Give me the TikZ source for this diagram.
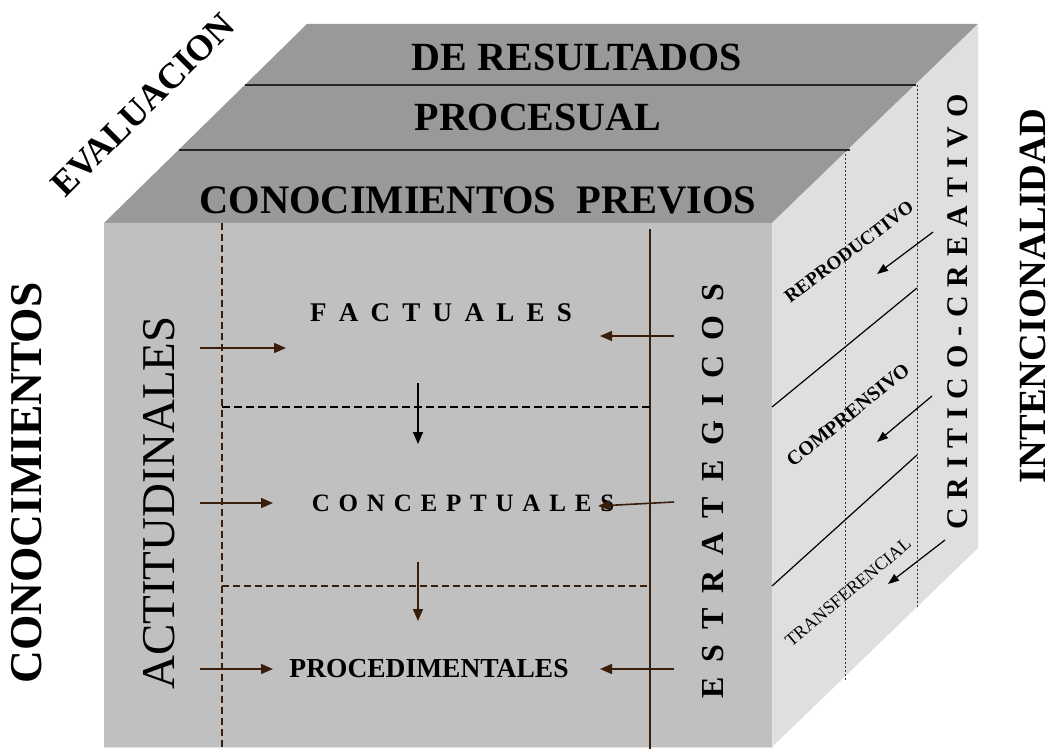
\documentclass[tikz,border=0pt]{standalone}
\usepackage{fontspec}
\setmainfont{Liberation Serif}
\usetikzlibrary{arrows.meta}
\definecolor{topgray}{HTML}{999999}
\definecolor{frontgray}{HTML}{C0C0C0}
\definecolor{sidegray}{HTML}{DFDFDF}
\definecolor{brn}{HTML}{3A1E0C}
\makeatletter
\newcommand\spreadtext[2]{\@tfor\sp@l:=#2\do{\sp@l\hskip#1\relax}\unskip}
\makeatother
\newcommand\fs[1]{\fontsize{#1}{#1}\selectfont}
\begin{document}
\begin{tikzpicture}[x=1pt,y=-1pt,
  lbl/.style={inner sep=0pt, font=\bfseries},
  arr/.style={-{Triangle[length=12pt,width=10pt]}, line width=1.6pt, draw=brn, fill=brn},
  sarr/.style={-{Triangle[length=11pt,width=8pt]}, line width=1.2pt, draw=black, fill=black},
  divline/.style={line width=1.5pt, draw=black!85},
  dotline/.style={line width=0.8pt, dash pattern=on 2pt off 2pt, draw=black!80},
  bdash/.style={line width=1.2pt, dash pattern=on 7pt off 4pt, draw=brn}]
\useasboundingbox (0,0) rectangle (1051,749);
% faces
\fill[topgray] (104,223) -- (307,24) -- (978,24) -- (772,223) -- cycle;
\fill[frontgray] (104,223) rectangle (772,747);
\fill[sidegray] (772,223) -- (978,24) -- (978,548) -- (772,747) -- cycle;
\draw[white!90!black, line width=0.8pt] (104,747) -- (772,747) -- (772,223);
% top face dividers
\draw[divline] (245,85) -- (916,85);
\draw[divline] (179,150) -- (850,150);
% top texts
\node[lbl, font=\bfseries\fs{40}] (res) at (577,57) {DE RESULTADOS};
\node[lbl, font=\bfseries\fs{40}] (proc) at (538,117) {PROCESUAL};
\node[lbl, font=\bfseries\fs{40.5}] (prev) at (478,200) {CONOCIMIENTOS\hskip20pt PREVIOS};
% front face lines
\draw[bdash] (222,223) -- (222,749);
\draw[line width=1.3pt, draw=brn] (650,229) -- (650,749);
\draw[line width=1.2pt, dash pattern=on 8pt off 4pt, draw=black] (222,407) -- (650,407);
\draw[bdash] (222,586) -- (650,586);
% front texts
\node[inner sep=0pt, font=\fs{47}, rotate=90] (act) at (159,503) {ACTITUDINALES};
\node[lbl, font=\bfseries\fs{32}, rotate=90] (est) at (713,491) {\spreadtext{14.8pt}{ESTRATEGICOS}};
\node[lbl, font=\bfseries\fs{27}] (fac) at (441,313) {\spreadtext{12.3pt}{FACTUALES}};
\node[lbl, font=\bfseries\fs{25}] (con) at (463,503) {\spreadtext{8.8pt}{CONCEPTUALES}};
\node[lbl, font=\bfseries\fs{27.5}] (pro) at (429,669) {PROCEDIMENTALES};
% front arrows
\coordinate (a1s) at (200,348); \coordinate (a1e) at (286,348);
\coordinate (a2s) at (200,503); \coordinate (a2e) at (273,503);
\coordinate (a3s) at (200,669); \coordinate (a3e) at (273,669);
\draw[arr] (a1s) -- (a1e);
\draw[arr] (a2s) -- (a2e);
\draw[arr] (a3s) -- (a3e);
\coordinate (d1s) at (418,383); \coordinate (d1e) at (418,444);
\coordinate (d2s) at (418,562); \coordinate (d2e) at (418,621);
\draw[arr, draw=black, fill=black] (d1s) -- (d1e);
\draw[arr] (d2s) -- (d2e);
\coordinate (b1s) at (674,336); \coordinate (b1e) at (600,336);
\coordinate (b2s) at (674,502); \coordinate (b2e) at (598,506);
\coordinate (b3s) at (674,669); \coordinate (b3e) at (600,669);
\draw[arr] (b1s) -- (b1e);
\draw[arr] (b2s) -- (b2e);
\draw[arr] (b3s) -- (b3e);
% right face
\draw[dotline] (845,150) -- (845,680);
\draw[dotline] (917,85) -- (917,609);
\draw[line width=1.2pt] (772,407) -- (917,288);
\draw[line width=1.2pt] (772,586) -- (917,455);
\coordinate (r1s) at (933,232); \coordinate (r1e) at (877,274);
\coordinate (r2s) at (932,396); \coordinate (r2e) at (877,442);
\coordinate (r3s) at (945,540); \coordinate (r3e) at (888,584);
\draw[sarr] (r1s) -- (r1e);
\draw[sarr] (r2s) -- (r2e);
\draw[sarr] (r3s) -- (r3e);
\node[lbl, font=\bfseries\fs{19}, rotate=37] (rep) at (849,252) {REPRODUCTIVO};
\node[lbl, font=\bfseries\fs{20}, rotate=39] (comp) at (848,415) {COMPRENSIVO};
\node[inner sep=0pt, font=\fs{18}, rotate=40] (tra) at (848,592) {TRANSFERENCIAL};
\node[lbl, font=\bfseries\fs{30}, rotate=90] (crit) at (958,312) {\spreadtext{8.8pt}{CRITICO-CREATIVO}};
% outer labels
\node[lbl, font=\bfseries\fs{36}, rotate=45] (eva) at (143,105) {EVALUACION};
\node[lbl, font=\bfseries\fs{45.5}, rotate=90] (cono) at (27,483) {CONOCIMIENTOS};
\node[lbl, font=\bfseries\fs{38.5}, rotate=90] (inte) at (1033,296) {INTENCIONALIDAD};
\end{tikzpicture}
\end{document}
